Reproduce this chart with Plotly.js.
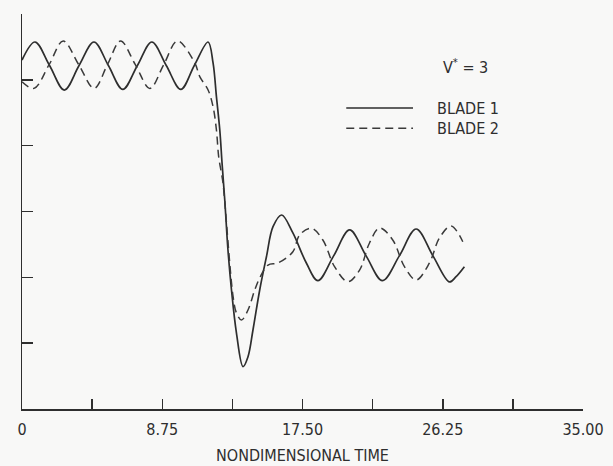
<!DOCTYPE html>
<html>
<head>
<meta charset="utf-8">
<script src="https://cdn.plot.ly/plotly-3.0.1.min.js"></script>
<style>
html,body{margin:0;padding:0;background:#f8f8f7;}
#chart{width:613px;height:466px;}
</style>
</head>
<body>
<div id="chart"></div>
<script>
// Nondimensional time (x) and response (y, arbitrary units)
var blade1X = [0.0, 0.81, 1.72, 2.64, 3.56, 4.49, 5.39, 6.29, 7.20, 8.10, 9.00, 9.91, 10.75, 11.61,
  11.92, 12.13, 12.34, 12.48, 12.65, 12.85, 13.07, 13.38, 13.79, 14.10, 14.41, 14.83, 15.25, 15.66,
  16.20, 16.90, 17.74, 18.46, 19.45, 20.44, 21.46, 22.49, 23.55, 24.59, 25.63, 26.67, 27.08, 27.60];
var blade1Y = [5.30, 5.575, 5.218, 4.845, 5.218, 5.575, 5.218, 4.855, 5.218, 5.575, 5.218, 4.855, 5.218, 5.575,
  5.256, 4.744, 4.238, 3.737, 3.175, 2.415, 1.808, 1.154, 0.643, 0.794, 1.200, 1.808, 2.313, 2.769,
  2.947, 2.674, 2.218, 1.950, 2.330, 2.720, 2.330, 1.950, 2.330, 2.734, 2.330, 1.930, 2.010, 2.162];

var blade2X = [0.0, 0.75, 1.69, 2.57, 3.54, 4.50, 5.33, 6.15, 7.07, 7.98, 8.84, 9.70,
  10.78, 11.09, 11.61, 11.92, 12.13, 12.27, 12.44, 12.54, 13.17, 13.38, 13.69, 14.10, 14.52, 14.83,
  15.35, 15.97, 16.90, 17.32, 18.05, 18.77, 19.50, 20.33, 21.06, 21.68, 22.31, 23.13, 23.86, 24.59,
  25.42, 26.04, 26.77, 27.50];
var blade2Y = [4.97, 4.87, 5.23, 5.59, 5.23, 4.87, 5.23, 5.59, 5.23, 4.87, 5.23, 5.59,
  5.256, 5.048, 4.846, 4.592, 4.238, 3.833, 3.585, 3.433, 1.706, 1.458, 1.352, 1.504, 1.808, 1.990,
  2.187, 2.218, 2.389, 2.643, 2.745, 2.567, 2.162, 1.934, 2.111, 2.522, 2.750, 2.567, 2.162, 1.960,
  2.218, 2.597, 2.780, 2.541];

var xTickVals = [0, 8.75, 17.5, 26.25, 35];
var xTickText = ["0", "8.75", "17.50", "26.25", "35.00"];
var xMinorTickVals = [4.375, 13.125, 21.875, 30.625];
var yTickVals = [0, 1, 2, 3, 4, 5, 6];
var seriesNames = ["BLADE 1", "BLADE 2"];
var caseLabel = "V<sup>*</sup> = 3";
var xTitle = "NONDIMENSIONAL TIME";

var ink = "#2e2e2e";
var fontFam = "'Liberation Sans Narrow', 'Arial Narrow', 'DejaVu Sans Condensed', sans-serif";
var fs = 16;

var traces = [
  {x: blade1X, y: blade1Y, name: seriesNames[0], type: "scatter", mode: "lines",
   line: {color: ink, width: 1.7, shape: "spline", smoothing: 1.0}},
  {x: blade2X, y: blade2Y, name: seriesNames[1], type: "scatter", mode: "lines",
   line: {color: "#3a3a3a", width: 1.5, dash: "8px,5px", shape: "spline", smoothing: 1.0}}
];

var layout = {
  width: 613, height: 466,
  margin: {l: 22, r: 30, t: 14, b: 57},
  paper_bgcolor: "#f8f8f7", plot_bgcolor: "#f8f8f7",
  showlegend: false,
  font: {family: fontFam, size: fs, color: ink},
  xaxis: {
    range: [0, 35], tickmode: "array", tickvals: xTickVals, ticktext: xTickText,
    ticks: "inside", ticklen: 10, tickwidth: 1.5, tickcolor: ink, ticklabelstandoff: 5,
    minor: {tickmode: "array", tickvals: xMinorTickVals, ticks: "inside", ticklen: 10,
            tickwidth: 1.5, tickcolor: ink, showgrid: false},
    showline: true, linecolor: ink, linewidth: 1.5, showgrid: false, zeroline: false,
    tickfont: {family: fontFam, size: fs, color: ink},
    title: {text: xTitle, font: {family: fontFam, size: fs, color: ink}, standoff: 12}
  },
  yaxis: {
    range: [0, 6], tickvals: yTickVals, showticklabels: false,
    ticks: "inside", ticklen: 11, tickwidth: 1.5, tickcolor: ink,
    showline: true, linecolor: ink, linewidth: 1.5, showgrid: false, zeroline: false
  },
  shapes: [
    {type: "line", xref: "paper", yref: "paper", x0: 0.578, x1: 0.697, y0: 0.762, y1: 0.762,
     line: {color: ink, width: 1.7}},
    {type: "line", xref: "paper", yref: "paper", x0: 0.578, x1: 0.697, y0: 0.711, y1: 0.711,
     line: {color: "#3a3a3a", width: 1.5, dash: "8px,5px"}}
  ],
  annotations: [
    {xref: "paper", yref: "paper", x: 0.790, y: 0.866, text: caseLabel, showarrow: false,
     xanchor: "center", yanchor: "middle", font: {family: fontFam, size: fs, color: ink}},
    {xref: "paper", yref: "paper", x: 0.736, y: 0.760, text: seriesNames[0], showarrow: false,
     xanchor: "left", yanchor: "middle", font: {family: fontFam, size: fs, color: ink}},
    {xref: "paper", yref: "paper", x: 0.736, y: 0.711, text: seriesNames[1], showarrow: false,
     xanchor: "left", yanchor: "middle", font: {family: fontFam, size: fs, color: ink}}
  ]
};

Plotly.newPlot("chart", traces, layout, {displayModeBar: false, staticPlot: true});
</script>
</body>
</html>
